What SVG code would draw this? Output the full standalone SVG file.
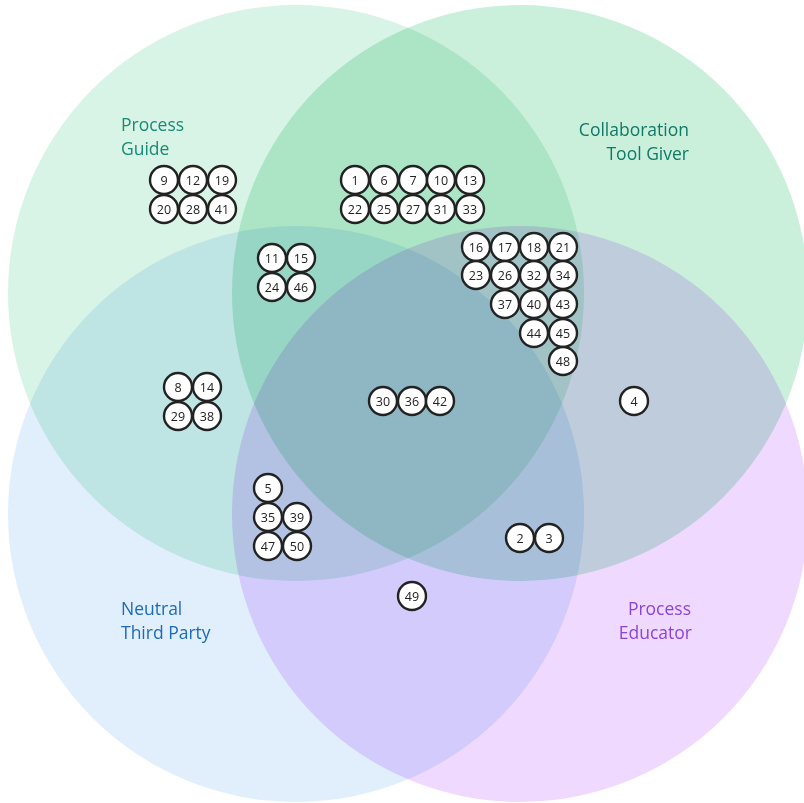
<svg xmlns="http://www.w3.org/2000/svg" width="804" height="803" viewBox="0 0 804 803">
<style>
.set{mix-blend-mode:multiply}
.n{fill:#ffffff;stroke:#222222;stroke-width:2.4}
.t{font-family:"Open Sans","Noto Sans",sans-serif;font-size:12.5px;fill:#222222;text-anchor:middle}
.lab{font-family:"Open Sans","Noto Sans",sans-serif;font-size:17.5px}
</style>
<rect width="804" height="803" fill="#ffffff"/>
<g id="sets">
<circle id="set-process-guide" class="set" cx="296" cy="293" r="288" fill="#d8f4e6"/>
<circle id="set-collaboration-tool-giver" class="set" cx="520" cy="293" r="288" fill="#caf0dc"/>
<circle id="set-neutral-third-party" class="set" cx="296" cy="514" r="288" fill="#e1effd"/>
<circle id="set-process-educator" class="set" cx="520" cy="514" r="288" fill="#f0d9fe"/>
</g>
<g id="labels">
<text class="lab" x="121" y="131" fill="#178a78">Process</text>
<text class="lab" x="121" y="155" fill="#178a78">Guide</text>
<text class="lab" x="689" y="136" fill="#117868" text-anchor="end">Collaboration</text>
<text class="lab" x="689" y="160" fill="#117868" text-anchor="end">Tool Giver</text>
<text class="lab" x="121" y="615" fill="#1c6bb5">Neutral</text>
<text class="lab" x="121" y="639" fill="#1c6bb5">Third Party</text>
<text class="lab" x="691" y="615" fill="#8a45d8" text-anchor="end">Process</text>
<text class="lab" x="692" y="639" fill="#8a45d8" text-anchor="end">Educator</text>
</g>
<g id="nodes">
<g id="n9"><circle class="n" cx="164" cy="180" r="14"/><text class="t" x="164" y="184.5">9</text></g>
<g id="n12"><circle class="n" cx="193" cy="180" r="14"/><text class="t" x="193" y="184.5">12</text></g>
<g id="n19"><circle class="n" cx="222" cy="180" r="14"/><text class="t" x="222" y="184.5">19</text></g>
<g id="n20"><circle class="n" cx="164" cy="209" r="14"/><text class="t" x="164" y="213.5">20</text></g>
<g id="n28"><circle class="n" cx="193" cy="209" r="14"/><text class="t" x="193" y="213.5">28</text></g>
<g id="n41"><circle class="n" cx="222" cy="209" r="14"/><text class="t" x="222" y="213.5">41</text></g>

<g id="n1"><circle class="n" cx="355" cy="180" r="14"/><text class="t" x="355" y="184.5">1</text></g>
<g id="n6"><circle class="n" cx="384" cy="180" r="14"/><text class="t" x="384" y="184.5">6</text></g>
<g id="n7"><circle class="n" cx="413" cy="180" r="14"/><text class="t" x="413" y="184.5">7</text></g>
<g id="n10"><circle class="n" cx="441" cy="180" r="14"/><text class="t" x="441" y="184.5">10</text></g>
<g id="n13"><circle class="n" cx="470" cy="180" r="14"/><text class="t" x="470" y="184.5">13</text></g>
<g id="n22"><circle class="n" cx="355" cy="209" r="14"/><text class="t" x="355" y="213.5">22</text></g>
<g id="n25"><circle class="n" cx="384" cy="209" r="14"/><text class="t" x="384" y="213.5">25</text></g>
<g id="n27"><circle class="n" cx="413" cy="209" r="14"/><text class="t" x="413" y="213.5">27</text></g>
<g id="n31"><circle class="n" cx="441" cy="209" r="14"/><text class="t" x="441" y="213.5">31</text></g>
<g id="n33"><circle class="n" cx="470" cy="209" r="14"/><text class="t" x="470" y="213.5">33</text></g>

<g id="n16"><circle class="n" cx="476" cy="247" r="14"/><text class="t" x="476" y="251.5">16</text></g>
<g id="n17"><circle class="n" cx="505" cy="247" r="14"/><text class="t" x="505" y="251.5">17</text></g>
<g id="n18"><circle class="n" cx="534" cy="247" r="14"/><text class="t" x="534" y="251.5">18</text></g>
<g id="n21"><circle class="n" cx="563" cy="247" r="14"/><text class="t" x="563" y="251.5">21</text></g>
<g id="n23"><circle class="n" cx="476" cy="275" r="14"/><text class="t" x="476" y="279.5">23</text></g>
<g id="n26"><circle class="n" cx="505" cy="275" r="14"/><text class="t" x="505" y="279.5">26</text></g>
<g id="n32"><circle class="n" cx="534" cy="275" r="14"/><text class="t" x="534" y="279.5">32</text></g>
<g id="n34"><circle class="n" cx="563" cy="275" r="14"/><text class="t" x="563" y="279.5">34</text></g>
<g id="n37"><circle class="n" cx="505" cy="304" r="14"/><text class="t" x="505" y="308.5">37</text></g>
<g id="n40"><circle class="n" cx="534" cy="304" r="14"/><text class="t" x="534" y="308.5">40</text></g>
<g id="n43"><circle class="n" cx="563" cy="304" r="14"/><text class="t" x="563" y="308.5">43</text></g>
<g id="n44"><circle class="n" cx="534" cy="333" r="14"/><text class="t" x="534" y="337.5">44</text></g>
<g id="n45"><circle class="n" cx="563" cy="333" r="14"/><text class="t" x="563" y="337.5">45</text></g>
<g id="n48"><circle class="n" cx="563" cy="361" r="14"/><text class="t" x="563" y="365.5">48</text></g>

<g id="n11"><circle class="n" cx="272" cy="258" r="14"/><text class="t" x="272" y="262.5">11</text></g>
<g id="n15"><circle class="n" cx="301" cy="258" r="14"/><text class="t" x="301" y="262.5">15</text></g>
<g id="n24"><circle class="n" cx="272" cy="287" r="14"/><text class="t" x="272" y="291.5">24</text></g>
<g id="n46"><circle class="n" cx="301" cy="287" r="14"/><text class="t" x="301" y="291.5">46</text></g>

<g id="n8"><circle class="n" cx="178" cy="387" r="14"/><text class="t" x="178" y="391.5">8</text></g>
<g id="n14"><circle class="n" cx="207" cy="387" r="14"/><text class="t" x="207" y="391.5">14</text></g>
<g id="n29"><circle class="n" cx="178" cy="416" r="14"/><text class="t" x="178" y="420.5">29</text></g>
<g id="n38"><circle class="n" cx="207" cy="416" r="14"/><text class="t" x="207" y="420.5">38</text></g>

<g id="n30"><circle class="n" cx="383" cy="401" r="14"/><text class="t" x="383" y="405.5">30</text></g>
<g id="n36"><circle class="n" cx="412" cy="401" r="14"/><text class="t" x="412" y="405.5">36</text></g>
<g id="n42"><circle class="n" cx="440" cy="401" r="14"/><text class="t" x="440" y="405.5">42</text></g>

<g id="n4"><circle class="n" cx="634" cy="401" r="14"/><text class="t" x="634" y="405.5">4</text></g>

<g id="n5"><circle class="n" cx="268" cy="488" r="14"/><text class="t" x="268" y="492.5">5</text></g>
<g id="n35"><circle class="n" cx="268" cy="517" r="14"/><text class="t" x="268" y="521.5">35</text></g>
<g id="n39"><circle class="n" cx="297" cy="517" r="14"/><text class="t" x="297" y="521.5">39</text></g>
<g id="n47"><circle class="n" cx="268" cy="546" r="14"/><text class="t" x="268" y="550.5">47</text></g>
<g id="n50"><circle class="n" cx="297" cy="546" r="14"/><text class="t" x="297" y="550.5">50</text></g>

<g id="n2"><circle class="n" cx="520" cy="538" r="14"/><text class="t" x="520" y="542.5">2</text></g>
<g id="n3"><circle class="n" cx="549" cy="538" r="14"/><text class="t" x="549" y="542.5">3</text></g>

<g id="n49"><circle class="n" cx="412" cy="596" r="14"/><text class="t" x="412" y="600.5">49</text></g>
</g>
</svg>
